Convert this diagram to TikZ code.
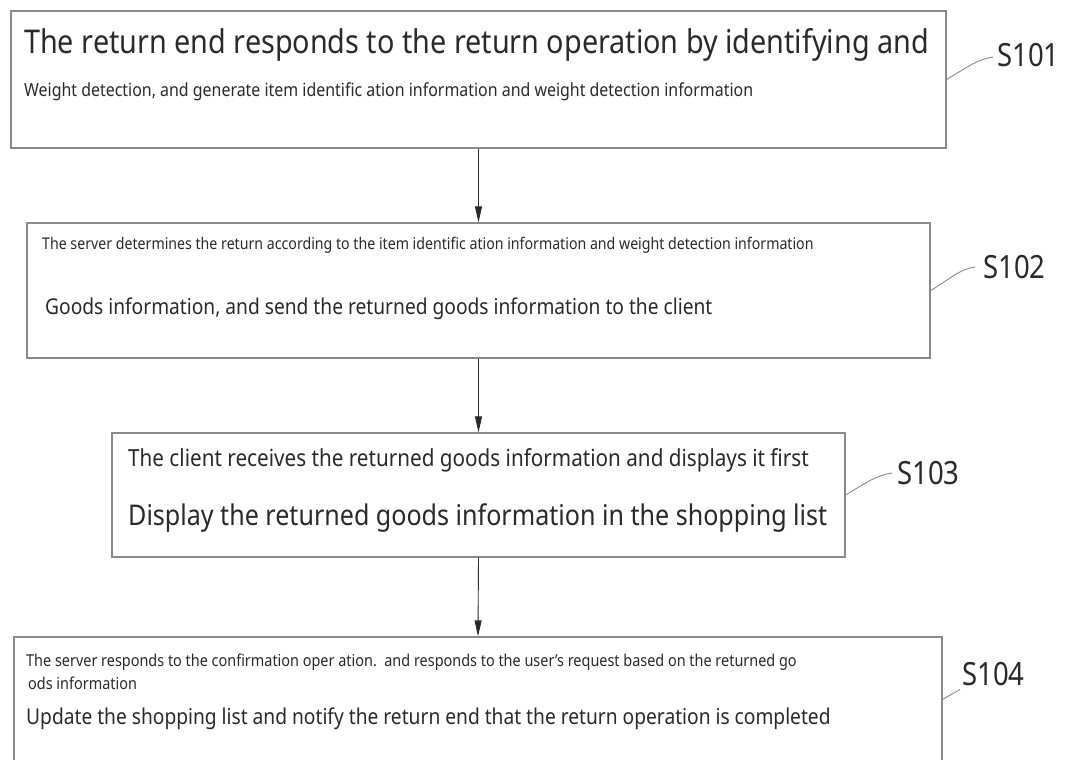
\documentclass[tikz,border=0pt]{standalone}
\usepackage{fontspec}
\setmainfont{Noto Sans}[FakeStretch=0.88]
\newfontfamily\stepfont{Noto Sans}[FakeStretch=0.86]
\usetikzlibrary{arrows.meta}
\definecolor{boxgray}{HTML}{8A8A8A}
\definecolor{inkgray}{HTML}{2A2A2A}
\newcommand{\fs}[1]{\fontsize{#1}{#1}\selectfont}

\begin{document}
\begin{tikzpicture}[x=1pt,y=-1pt,
    stepbox/.style={draw=boxgray,line width=1.3pt,inner sep=0pt},
    line/.style={anchor=west,inner sep=0pt,text=inkgray},
    flow/.style={draw=inkgray,line width=0.9pt,-{Triangle[length=16pt,width=7pt]}},
    leader/.style={draw=boxgray,line width=0.9pt},
    tag/.style={anchor=west,inner sep=0pt,text=inkgray,font=\stepfont\fs{32}}]
  \clip (0,0) rectangle (1066,760);
  \fill[white] (0,0) rectangle (1066,760);

  % the four steps
  \node[stepbox,minimum width=935pt,minimum height=137pt] (box1) at (478.5,79.5) {};
  \node[stepbox,minimum width=903pt,minimum height=135pt] (box2) at (478.5,290.5) {};
  \node[stepbox,minimum width=733pt,minimum height=124pt] (box3) at (478.5,495) {};
  \node[stepbox,minimum width=928pt,minimum height=160pt] (box4) at (478,717) {};

  % texts in the boxes
  \node[line,font=\fs{32.7}] (t11) at (24,45) {The return end responds to the return operation by identifying and};
  \node[line,font=\fs{18.1}] (t12) at (24,92) {Weight detection, and generate item identific ation information and weight detection information};
  \node[line,font=\fs{16.1}] (t21) at (42,245) {The server determines the return according to the item identific ation information and weight detection information};
  \node[line,font=\fs{21.8}] (t22) at (45,309) {Goods information, and send the returned goods information to the client};
  \node[line,font=\fs{23.5}] (t31) at (128,460) {The client receives the returned goods information and displays it first};
  \node[line,font=\fs{28.5}] (t32) at (128,518) {Display the returned goods information in the shopping list};
  \node[line,font=\fs{16.4}] (t41) at (26,662) {The server responds to the confirmation oper ation.\ \ and responds to the user's request based on the returned go};
  \node[line,font=\fs{16.4}] (t42) at (28,683) {ods information};
  \node[line,font=\fs{21.8}] (t43) at (26,719) {Update the shopping list and notify the return end that the return operation is completed};

  % step labels
  \node[tag] (s101) at (997,55) {S101};
  \node[tag] (s102) at (983,267) {S102};
  \node[tag] (s103) at (897,473) {S103};
  \node[tag] (s104) at (962,674.5) {S104};

  % arrows
  \draw[flow] (box1.south) -- (box2.north);
  \draw[flow] (box2.south) -- (box3.north);
  \draw[flow] (box3.south) -- (box4.north);

  % leaders
  \draw[leader] (box1.east) .. controls +(20,-12) and +(-15,2) .. ([xshift=-4pt,yshift=-2pt]s101.west);
  \draw[leader] (box2.east) .. controls +(20,-12) and +(-15,2) .. ([xshift=-8pt]s102.west);
  \draw[leader] (box3.east) .. controls +(20,-12) and +(-15,2) .. ([xshift=-5pt]s103.west);
  \draw[leader] ([yshift=-63pt]box4.north east) -- ([xshift=-2pt,yshift=-15pt]s104.west);
\end{tikzpicture}
\end{document}
